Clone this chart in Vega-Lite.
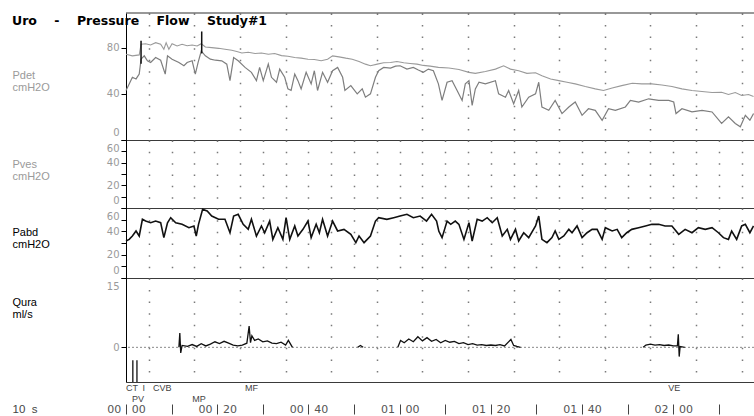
{
  "$schema": "https://vega.github.io/schema/vega-lite/v6.json",
  "padding": {"left": 12, "top": 12, "right": 0, "bottom": 0},
  "spacing": 0,
  "bounds": "flush",
  "background": "white",
  "config": {
    "view": {"stroke": null},
    "axisX": {"grid": true, "labels": false, "ticks": false, "domain": true, "domainColor": "#3a3a3a", "domainWidth": 1, "gridColor": "#7a7a7a", "gridWidth": 1.5, "labelFlush": false},
    "axisY": {"domainColor": "#000", "tickColor": "#000", "tickSize": 5, "labelColor": "#9a9a9a", "labelFont": "DejaVu Sans", "labelFontSize": 10, "labelPadding": 2, "labelFlush": true, "labelFlushOffset": -3, "labelOverlap": false, "grid": false, "titleAngle": 0, "titleAlign": "left", "titleBaseline": "top", "titleX": -114, "titleFont": "Liberation Sans", "titleFontSize": 11, "titleFontWeight": "normal", "titleLineHeight": 12}
  },
  "datasets": {
    "upper": [
      {"t":0,"v":74.3},{"t":1.4,"v":72.9},{"t":2.9,"v":73.7},{"t":3.3,"v":82.9},{"t":4.3,"v":83.4},{"t":5.4,"v":82.3},{"t":6.5,"v":84.3},{"t":7.6,"v":82.9},{"t":8.3,"v":78.6},{"t":8.8,"v":84.3},{"t":9.4,"v":78.6},{"t":10.1,"v":83.4},{"t":11.2,"v":81.4},{"t":12.3,"v":82.9},{"t":13.4,"v":81.7},{"t":14.5,"v":82.3},{"t":15.6,"v":81.4},{"t":16.5,"v":83.4},{"t":17.4,"v":80.6},{"t":18.8,"v":80},{"t":20.3,"v":79.4},{"t":21.7,"v":78.6},{"t":23.2,"v":77.7},{"t":24.3,"v":76.6},{"t":25.4,"v":75.4},{"t":26.8,"v":76},{"t":28.3,"v":74.9},{"t":29.7,"v":75.4},{"t":31.2,"v":74.3},{"t":32.6,"v":74.9},{"t":34.1,"v":73.1},{"t":35.5,"v":72.6},{"t":37,"v":71.4},{"t":38.4,"v":70.9},{"t":39.9,"v":70},{"t":41.3,"v":69.7},{"t":42.8,"v":68.6},{"t":44.2,"v":70},{"t":45.3,"v":72.9},{"t":46.7,"v":72},{"t":48.2,"v":70.9},{"t":49.6,"v":70},{"t":51.1,"v":68},{"t":52.5,"v":65.7},{"t":53.6,"v":64.3},{"t":55.1,"v":65.7},{"t":56.5,"v":66.9},{"t":58,"v":67.1},{"t":59.4,"v":68},{"t":60.9,"v":66.9},{"t":62.3,"v":66.3},{"t":63.8,"v":65.7},{"t":65.2,"v":64.6},{"t":66.7,"v":64},{"t":68.5,"v":62.9},{"t":70.8,"v":62.3},{"t":73,"v":61.1},{"t":75.2,"v":58.6},{"t":76.6,"v":57.7},{"t":78.8,"v":59.4},{"t":81,"v":61.4},{"t":82.8,"v":64.3},{"t":84.3,"v":61.4},{"t":86.1,"v":60},{"t":87.9,"v":57.7},{"t":89.8,"v":58.3},{"t":91.2,"v":55.7},{"t":93.1,"v":52.9},{"t":94.9,"v":51.4},{"t":96.7,"v":50},{"t":98.5,"v":48.6},{"t":100.7,"v":46.3},{"t":102.9,"v":44.3},{"t":104.7,"v":42.9},{"t":106.6,"v":45.1},{"t":108.7,"v":47.1},{"t":111,"v":49.1},{"t":113.1,"v":48.6},{"t":115.3,"v":48.6},{"t":117.5,"v":47.7},{"t":119.7,"v":46.3},{"t":121.9,"v":44.3},{"t":124.1,"v":42.9},{"t":126.3,"v":42},{"t":128.5,"v":41.1},{"t":130.6,"v":41.4},{"t":132.1,"v":39.4},{"t":133.6,"v":41.1},{"t":135,"v":38.6},{"t":136.5,"v":39.4},{"t":137.6,"v":37.7}
    ],
    "lower": [
      {"t":0,"v":42.9},{"t":0.7,"v":48.6},{"t":1.4,"v":54.3},{"t":2.2,"v":52.9},{"t":2.9,"v":57.1},{"t":3.3,"v":70},{"t":4,"v":72.9},{"t":4.7,"v":68.6},{"t":5.4,"v":67.1},{"t":6.5,"v":71.4},{"t":7.6,"v":69.1},{"t":8.6,"v":57.1},{"t":9.1,"v":72.9},{"t":10.1,"v":70},{"t":11.6,"v":67.1},{"t":12.7,"v":64.3},{"t":13.4,"v":67.1},{"t":14.5,"v":68.6},{"t":15.2,"v":57.1},{"t":15.8,"v":67.1},{"t":16.5,"v":77.1},{"t":17.4,"v":72.9},{"t":18.5,"v":70},{"t":19.6,"v":69.1},{"t":21,"v":68.6},{"t":22.1,"v":65.7},{"t":22.8,"v":51.4},{"t":23.6,"v":71.4},{"t":24.6,"v":68.6},{"t":26.1,"v":62.9},{"t":27.5,"v":58.6},{"t":28.6,"v":51.4},{"t":29.3,"v":62.9},{"t":30.1,"v":51.4},{"t":31.2,"v":65.7},{"t":31.9,"v":54.3},{"t":33,"v":50},{"t":33.7,"v":61.4},{"t":34.8,"v":54.3},{"t":35.5,"v":44.3},{"t":36.2,"v":42.9},{"t":37,"v":57.1},{"t":37.7,"v":51.4},{"t":38.4,"v":44.3},{"t":39.5,"v":58.6},{"t":40.6,"v":48.6},{"t":41.3,"v":60},{"t":42,"v":42.9},{"t":43.1,"v":58.6},{"t":44.2,"v":50},{"t":45.3,"v":60},{"t":46.4,"v":62.9},{"t":47.5,"v":54.3},{"t":48,"v":42.9},{"t":49.3,"v":47.1},{"t":50.7,"v":40},{"t":51.8,"v":44.3},{"t":52.5,"v":37.1},{"t":53.6,"v":40},{"t":54.7,"v":54.3},{"t":55.4,"v":60},{"t":56.5,"v":62.9},{"t":58,"v":62.3},{"t":59.1,"v":64},{"t":60.1,"v":64.3},{"t":61.6,"v":61.4},{"t":63,"v":62.9},{"t":64.1,"v":60.6},{"t":65.2,"v":58.6},{"t":66.3,"v":61.4},{"t":67.4,"v":60},{"t":68.5,"v":48.6},{"t":69.3,"v":34.3},{"t":70.4,"v":50},{"t":71.5,"v":51.4},{"t":72.6,"v":42.9},{"t":73.7,"v":34.3},{"t":74.4,"v":48.6},{"t":75.2,"v":51.4},{"t":75.9,"v":30},{"t":76.6,"v":44.3},{"t":77.4,"v":50},{"t":78.8,"v":48.6},{"t":81,"v":51.4},{"t":81.7,"v":40},{"t":83.2,"v":37.1},{"t":83.9,"v":42.9},{"t":85,"v":31.4},{"t":86.1,"v":42.9},{"t":86.8,"v":28.6},{"t":88.3,"v":37.1},{"t":89.8,"v":40},{"t":90.5,"v":50},{"t":91.2,"v":28.6},{"t":92.7,"v":25.7},{"t":94.1,"v":34.3},{"t":95.6,"v":22.9},{"t":97.1,"v":28.6},{"t":98.5,"v":32.9},{"t":100,"v":21.4},{"t":101.4,"v":27.1},{"t":102.9,"v":25.7},{"t":104.4,"v":17.1},{"t":105.8,"v":27.1},{"t":107.3,"v":25.7},{"t":109.5,"v":28.6},{"t":110.6,"v":34.3},{"t":112.4,"v":32.9},{"t":114.6,"v":35.7},{"t":116.8,"v":34.3},{"t":119,"v":34.3},{"t":120.1,"v":32.9},{"t":120.6,"v":22.9},{"t":121.9,"v":27.1},{"t":124.1,"v":24.3},{"t":126.3,"v":25.7},{"t":128.5,"v":24.3},{"t":130.6,"v":14.3},{"t":132.1,"v":20},{"t":133.6,"v":14.3},{"t":134.7,"v":11.4},{"t":135.8,"v":21.4},{"t":136.8,"v":17.1},{"t":137.6,"v":22.9}
    ],
    "pabd": [
      {"t":0,"v":31.7},{"t":0.7,"v":33.1},{"t":1.4,"v":36},{"t":2.2,"v":40.3},{"t":2.9,"v":36},{"t":3.6,"v":50.3},{"t":4.3,"v":48.8},{"t":5.4,"v":47.4},{"t":6.5,"v":48.8},{"t":7.6,"v":47.4},{"t":8.3,"v":34.6},{"t":9.1,"v":47.4},{"t":9.8,"v":51.7},{"t":10.9,"v":47.4},{"t":12.3,"v":46},{"t":13.8,"v":43.1},{"t":14.9,"v":44.6},{"t":15.4,"v":36},{"t":15.9,"v":46},{"t":16.8,"v":58.8},{"t":17.8,"v":57.4},{"t":18.8,"v":53.1},{"t":20.3,"v":50.3},{"t":21.7,"v":50.3},{"t":22.8,"v":38.8},{"t":23.6,"v":53.1},{"t":24.6,"v":54.6},{"t":25.7,"v":46},{"t":26.8,"v":41.7},{"t":27.5,"v":50.3},{"t":28.6,"v":36},{"t":29.7,"v":44.6},{"t":30.4,"v":38.8},{"t":31.5,"v":48.8},{"t":32.2,"v":33.1},{"t":33.3,"v":43.1},{"t":34.4,"v":33.1},{"t":35.1,"v":51.7},{"t":35.9,"v":33.1},{"t":37,"v":44.6},{"t":37.7,"v":36},{"t":38.8,"v":41.7},{"t":39.9,"v":48.8},{"t":40.6,"v":34.6},{"t":41.7,"v":46},{"t":42.4,"v":38.8},{"t":43.1,"v":50.3},{"t":44.2,"v":36},{"t":45.3,"v":48.8},{"t":46.4,"v":40.3},{"t":47.8,"v":41.7},{"t":49.3,"v":37.4},{"t":50.4,"v":30.3},{"t":51.1,"v":36},{"t":52.2,"v":30.3},{"t":53.6,"v":36},{"t":54.7,"v":48.8},{"t":55.4,"v":51.7},{"t":57.2,"v":50.3},{"t":58.7,"v":51.7},{"t":60.1,"v":53.1},{"t":61.6,"v":54.6},{"t":63,"v":51.7},{"t":64.5,"v":53.1},{"t":65.9,"v":48.8},{"t":67,"v":54.6},{"t":68.1,"v":48.8},{"t":68.6,"v":40},{"t":69.3,"v":34.6},{"t":70.4,"v":48.8},{"t":71.2,"v":46},{"t":72.2,"v":48.8},{"t":73,"v":46},{"t":74.1,"v":33.1},{"t":75.2,"v":47.4},{"t":75.9,"v":31.7},{"t":77,"v":50.3},{"t":78.1,"v":48.8},{"t":79.2,"v":51.7},{"t":80.3,"v":47.4},{"t":81.4,"v":51.7},{"t":82.5,"v":36},{"t":83.6,"v":41.7},{"t":84.3,"v":33.1},{"t":85.4,"v":41.7},{"t":86.1,"v":31.7},{"t":87.2,"v":38.8},{"t":88.3,"v":34.6},{"t":89.8,"v":44.6},{"t":90.5,"v":53.1},{"t":91.2,"v":33.1},{"t":92.3,"v":30.3},{"t":93.4,"v":34.6},{"t":94.1,"v":40.3},{"t":94.9,"v":33.1},{"t":96,"v":36},{"t":97.1,"v":41.7},{"t":97.8,"v":38.8},{"t":98.9,"v":44.6},{"t":100,"v":34.6},{"t":101.1,"v":38.8},{"t":102.2,"v":41.7},{"t":103.3,"v":41.7},{"t":104.4,"v":33.1},{"t":105.1,"v":43.1},{"t":106.6,"v":40.3},{"t":107.7,"v":41.7},{"t":108.7,"v":34.6},{"t":109.8,"v":38.8},{"t":110.9,"v":41.7},{"t":112.4,"v":43.1},{"t":113.9,"v":44.6},{"t":115.3,"v":46},{"t":116.8,"v":46},{"t":118.2,"v":44.6},{"t":119.7,"v":44.6},{"t":121.2,"v":37.4},{"t":122.6,"v":41.7},{"t":124.1,"v":38.8},{"t":125.5,"v":43.1},{"t":127,"v":41.7},{"t":128.5,"v":43.1},{"t":129.9,"v":38.8},{"t":131,"v":34.6},{"t":132.1,"v":33.1},{"t":132.8,"v":40.3},{"t":133.9,"v":33.1},{"t":135,"v":44.6},{"t":135.8,"v":46},{"t":136.8,"v":38.8},{"t":137.6,"v":44.6}
    ],
    "qura": [
      {"seg":1,"t":11.6,"v":0},{"seg":1,"t":11.8,"v":3.1},{"seg":1,"t":12,"v":-1.2},{"seg":1,"t":12.3,"v":0.4},{"seg":1,"t":13.5,"v":0.2},{"seg":1,"t":14.5,"v":0.6},{"seg":1,"t":15.5,"v":0.2},{"seg":1,"t":16.5,"v":0.8},{"seg":1,"t":17.5,"v":0.3},{"seg":1,"t":18.5,"v":0.7},{"seg":1,"t":19.5,"v":1.2},{"seg":1,"t":20.5,"v":0.8},{"seg":1,"t":21.5,"v":1.3},{"seg":1,"t":22.5,"v":0.9},{"seg":1,"t":23.5,"v":0.5},{"seg":1,"t":24.5,"v":0.3},{"seg":1,"t":25.5,"v":0.5},{"seg":1,"t":26.5,"v":0.9},{"seg":1,"t":27,"v":4.6},{"seg":1,"t":27.3,"v":1},{"seg":1,"t":27.6,"v":2.5},{"seg":1,"t":28.2,"v":1.5},{"seg":1,"t":29,"v":1.8},{"seg":1,"t":30,"v":1.2},{"seg":1,"t":31,"v":1.4},{"seg":1,"t":32,"v":0.9},{"seg":1,"t":33,"v":0.8},{"seg":1,"t":34,"v":1.1},{"seg":1,"t":35,"v":0.5},{"seg":1,"t":35.6,"v":1.5},{"seg":1,"t":36.5,"v":0},
      {"seg":2,"t":50.8,"v":0},{"seg":2,"t":51.4,"v":0.4},{"seg":2,"t":52,"v":0},
      {"seg":3,"t":59.6,"v":0},{"seg":3,"t":60.2,"v":1.5},{"seg":3,"t":61,"v":1},{"seg":3,"t":62,"v":1.8},{"seg":3,"t":63,"v":1.2},{"seg":3,"t":64,"v":2.3},{"seg":3,"t":65,"v":1.4},{"seg":3,"t":66,"v":2.1},{"seg":3,"t":67,"v":1.3},{"seg":3,"t":68,"v":1.7},{"seg":3,"t":69,"v":1},{"seg":3,"t":70,"v":1.5},{"seg":3,"t":71,"v":1.1},{"seg":3,"t":72,"v":1.3},{"seg":3,"t":73,"v":0.8},{"seg":3,"t":74,"v":1},{"seg":3,"t":75,"v":0.6},{"seg":3,"t":76,"v":0.8},{"seg":3,"t":77,"v":0.5},{"seg":3,"t":78,"v":0.6},{"seg":3,"t":79,"v":0.4},{"seg":3,"t":80,"v":0.5},{"seg":3,"t":81,"v":0.4},{"seg":3,"t":82,"v":0.6},{"seg":3,"t":83,"v":0.3},{"seg":3,"t":84.4,"v":1.7},{"seg":3,"t":85,"v":0.4},{"seg":3,"t":85.7,"v":0.2},{"seg":3,"t":86.5,"v":0},
      {"seg":4,"t":113.4,"v":0},{"seg":4,"t":114,"v":0.5},{"seg":4,"t":115,"v":0.7},{"seg":4,"t":116,"v":0.5},{"seg":4,"t":117,"v":0.6},{"seg":4,"t":118,"v":0.4},{"seg":4,"t":119,"v":0.5},{"seg":4,"t":120,"v":0.3},{"seg":4,"t":120.9,"v":0.3},{"seg":4,"t":121.1,"v":2.8},{"seg":4,"t":121.3,"v":-2},{"seg":4,"t":121.5,"v":0.2},{"seg":4,"t":122.5,"v":0}
    ],
    "pdetMarks": [{"t":3.3,"v":66,"v2":86},{"t":16.6,"v":75,"v2":94}],
    "quraMarks": [{"t":1.5,"v":-7.5,"v2":-2.8},{"t":2.4,"v":-7.5,"v2":-2.8}],
    "events": [
      {"t":0,"row":2,"label":"CT"},{"t":3.6,"row":2,"label":"I"},{"t":5.9,"row":2,"label":"CVB"},{"t":1.3,"row":1,"label":"PV"},{"t":14.5,"row":1,"label":"MP"},{"t":26.1,"row":2,"label":"MF"},{"t":118.9,"row":2,"label":"VE"}
    ]
  },
  "vconcat": [
    {
      "width": 628, "height": 127,
      "title": {"text": "Uro\u00a0\u00a0\u00a0\u00a0-\u00a0\u00a0\u00a0\u00a0Pressure\u00a0\u00a0\u00a0\u00a0Flow\u00a0\u00a0\u00a0\u00a0Study#1", "anchor": "start", "frame": "group", "dx": -114, "offset": -15, "font": "DejaVu Sans", "fontSize": 12.5, "fontWeight": "bold", "color": "#000"},
      "layer": [
        {"data": {"name": "upper"}, "mark": {"type": "line", "color": "#9a9a9a", "strokeWidth": 1.1},
         "encoding": {
           "x": {"field": "t", "type": "quantitative", "scale": {"domain": [0, 137.7], "nice": false, "zero": false}, "axis": {"title": null, "values": [5,10,15,20,25,30,35,40,45,50,55,60,65,70,75,80,85,90,95,100,105,110,115,120,125,130,135], "gridDash": [1.5, 10.045]}},
           "y": {"field": "v", "type": "quantitative", "scale": {"domain": [0, 110], "nice": false, "zero": false}, "axis": {"values": [0,10,20,30,40,50,60,70,80,90], "labelExpr": "datum.value % 20 == 0 ? datum.label : ''", "title": ["Pdet", "cmH2O"], "titleColor": "#9a9a9a", "titleX": -114, "titleY": 56}}
         }},
        {"data": {"name": "lower"}, "mark": {"type": "line", "color": "#7e7e7e", "strokeWidth": 1.2},
         "encoding": {"x": {"field": "t", "type": "quantitative"}, "y": {"field": "v", "type": "quantitative"}}},
        {"data": {"values": [{"v": 110}]}, "mark": {"type": "rule", "color": "#333", "strokeWidth": 1.2},
         "encoding": {"y": {"field": "v", "type": "quantitative"}}},
        {"data": {"name": "pdetMarks"}, "mark": {"type": "rule", "color": "#111", "strokeWidth": 1.5},
         "encoding": {"x": {"field": "t", "type": "quantitative"}, "y": {"field": "v", "type": "quantitative"}, "y2": {"field": "v2"}}}
      ]
    },
    {
      "width": 628, "height": 68,
      "data": {"values": [{"t": 0, "v": 0}]},
      "mark": {"type": "point", "opacity": 0},
      "encoding": {
        "x": {"field": "t", "type": "quantitative", "scale": {"domain": [0, 137.7], "nice": false, "zero": false}, "axis": {"title": null, "values": [5,10,15,20,25,30,35,40,45,50,55,60,65,70,75,80,85,90,95,100,105,110,115,120,125,130,135], "gridDash": [1.5, 9.833]}},
        "y": {"field": "v", "type": "quantitative", "scale": {"domain": [0, 60], "nice": false, "zero": false}, "axis": {"values": [0,10,20,30,40,50,60], "labelExpr": "datum.value % 20 == 0 ? datum.label : ''", "title": ["Pves", "cmH2O"], "titleColor": "#9a9a9a", "titleX": -114, "titleY": 18}}
      }
    },
    {
      "width": 628, "height": 70,
      "data": {"name": "pabd"},
      "mark": {"type": "line", "color": "#111", "strokeWidth": 1.6},
      "encoding": {
        "x": {"field": "t", "type": "quantitative", "scale": {"domain": [0, 137.7], "nice": false, "zero": false}, "axis": {"title": null, "values": [5,10,15,20,25,30,35,40,45,50,55,60,65,70,75,80,85,90,95,100,105,110,115,120,125,130,135], "gridDash": [1.5, 10.167]}},
        "y": {"field": "v", "type": "quantitative", "scale": {"domain": [0, 60], "nice": false, "zero": false}, "axis": {"values": [0,10,20,30,40,50,60], "labelExpr": "datum.value % 20 == 0 ? datum.label : ''", "title": ["Pabd", "cmH2O"], "titleColor": "#000", "titleX": -114, "titleY": 18}}
      }
    },
    {
      "width": 628, "height": 104,
      "layer": [
        {"data": {"values": [{"v": 0}]}, "mark": {"type": "rule", "color": "#8a8a8a", "strokeDash": [2, 2], "strokeWidth": 1},
         "encoding": {"y": {"field": "v", "type": "quantitative", "scale": {"domain": [-7.5, 15], "nice": false, "zero": false}, "axis": {"values": [0,2.5,5,7.5,10,12.5,15], "labelExpr": "datum.value % 5 == 0 ? datum.label : ''", "title": ["Qura", "ml/s"], "titleColor": "#000", "titleX": -114, "titleY": 18}}}},
        {"data": {"name": "qura"}, "mark": {"type": "line", "color": "#111", "strokeWidth": 1.3},
         "encoding": {
           "x": {"field": "t", "type": "quantitative", "scale": {"domain": [0, 137.7], "nice": false, "zero": false}, "axis": {"title": null, "values": [5,10,15,20,25,30,35,40,45,50,55,60,65,70,75,80,85,90,95,100,105,110,115,120,125,130,135], "gridDash": [1.5, 10.056]}},
           "y": {"field": "v", "type": "quantitative"},
           "detail": {"field": "seg", "type": "nominal"}
         }},
        {"data": {"name": "quraMarks"}, "mark": {"type": "rule", "color": "#111", "strokeWidth": 1.3},
         "encoding": {"x": {"field": "t", "type": "quantitative"}, "y": {"field": "v", "type": "quantitative"}, "y2": {"field": "v2"}}}
      ]
    },
    {
      "width": 628, "height": 22,
      "data": {"name": "events"},
      "mark": {"type": "text", "align": "left", "baseline": "middle", "font": "Liberation Sans", "fontSize": 9, "color": "#444"},
      "encoding": {
        "x": {"field": "t", "type": "quantitative", "scale": {"domain": [0, 137.7], "nice": false, "zero": false},
              "axis": {"grid": false, "domain": false, "ticks": true, "tickSize": 10, "tickColor": "#444", "labels": true, "labelFont": "DejaVu Sans", "labelFontSize": 11, "labelColor": "#555", "labelPadding": -11, "labelOverlap": false, "labelFlush": false,
                       "values": [0,10,20,30,40,50,60,70,80,90,100,110,120,130],
                       "labelExpr": "datum.value % 20 == 0 ? format(floor(datum.value / 60), '02d') + '\u00a0\u00a0\u00a0' + format(datum.value % 60, '02d') : ''",
                       "title": "10\u00a0\u00a0s", "titleX": -114, "titleY": 5, "titleAlign": "left", "titleAngle": 0, "titleBaseline": "middle", "titleFont": "Liberation Sans", "titleFontSize": 11.5, "titleFontWeight": "normal", "titleColor": "#444"}},
        "y": {"field": "row", "type": "quantitative", "scale": {"domain": [0.545, 2.545], "nice": false, "zero": false}, "axis": null},
        "text": {"field": "label"}
      }
    }
  ]
}
